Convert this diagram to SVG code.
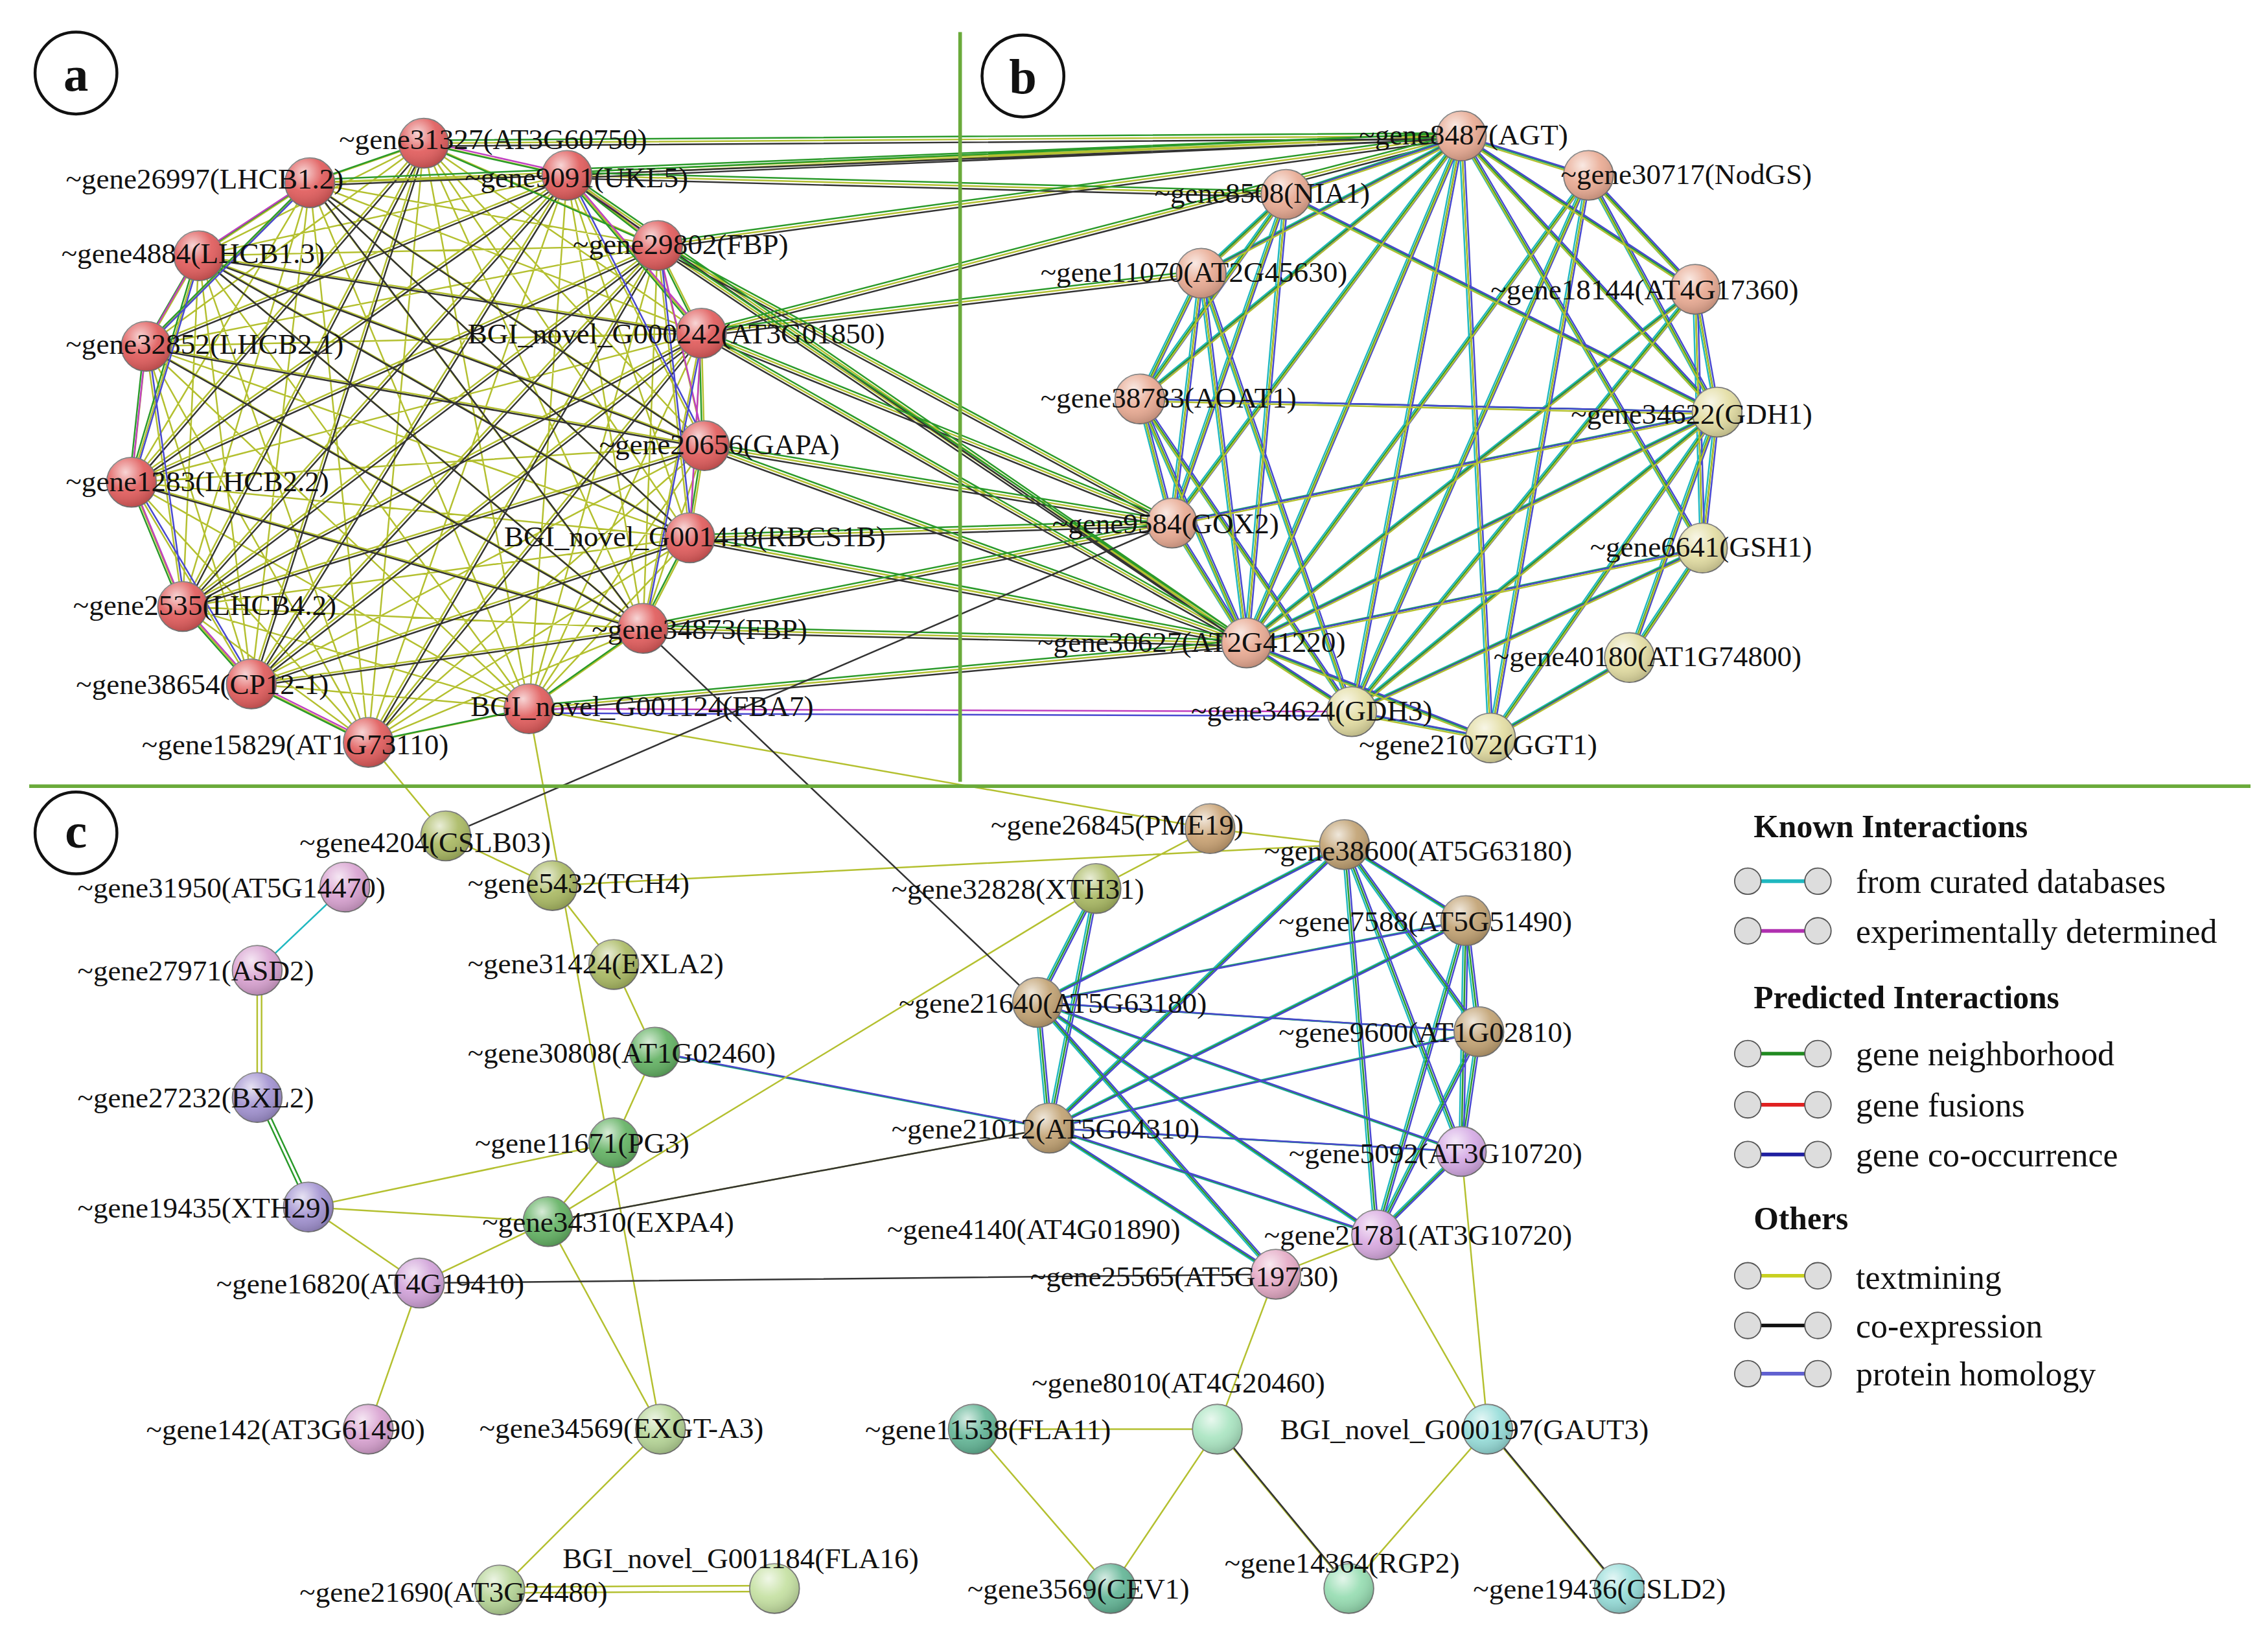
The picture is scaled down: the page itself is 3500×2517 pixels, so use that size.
<svg xmlns="http://www.w3.org/2000/svg" xmlns:xlink="http://www.w3.org/1999/xlink" width="3500" height="2517" viewBox="0 0 3500 2517">
<style>
text{font-family:"Liberation Serif","Times New Roman",serif;font-size:20px;fill:#111}
.lg{font-size:23px}
.hd{font-size:22px;font-weight:bold}
.pl{font-size:34px;font-weight:bold}
.e{fill:none;stroke-width:1.1}
.ol{stroke:#b4c030}.bk{stroke:#333}.gr{stroke:#2a9a2a}.mg{stroke:#c040c0}.bl{stroke:#4848d0}.cy{stroke:#20b8c0}.rd{stroke:#e02020}
.n{stroke:#777;stroke-width:0.8}
.h{fill:url(#hl)}
</style>
<defs>
<radialGradient id="hl" cx="0.38" cy="0.3" r="0.75">
<stop offset="0" stop-color="#fff" stop-opacity="0.75"/>
<stop offset="0.5" stop-color="#fff" stop-opacity="0.1"/>
<stop offset="1" stop-color="#000" stop-opacity="0.2"/>
</radialGradient>
<path id="pa" d="M290 98L212 125M290 98L388 120M290 98L136 175M290 98L450 168M290 98L100 237M290 98L480 228M290 98L482 305M290 98L90 330M290 98L472 368M290 98L125 415M290 98L440 430M290 98L172 468M290 98L362 485M290 98L252 508M212 125L388 120M212 125L136 175M212 125L450 168M212 125L100 237M212 125L480 228M212 125L482 305M212 125L90 330M212 125L472 368M212 125L125 415M212 125L440 430M212 125L172 468M212 125L362 485M212 125L252 508M388 120L136 175M388 120L450 168M388 120L100 237M388 120L480 228M388 120L482 305M388 120L90 330M388 120L472 368M388 120L125 415M388 120L440 430M388 120L172 468M388 120L362 485M388 120L252 508M136 175L450 168M136 175L100 237M136 175L480 228M136 175L482 305M136 175L90 330M136 175L472 368M136 175L125 415M136 175L440 430M136 175L172 468M136 175L362 485M136 175L252 508M450 168L100 237M450 168L480 228M450 168L482 305M450 168L90 330M450 168L472 368M450 168L125 415M450 168L440 430M450 168L172 468M450 168L362 485M450 168L252 508M100 237L480 228M100 237L482 305M100 237L90 330M100 237L472 368M100 237L125 415M100 237L440 430M100 237L172 468M100 237L362 485M100 237L252 508M480 228L482 305M480 228L90 330M480 228L472 368M480 228L125 415M480 228L440 430M480 228L172 468M480 228L362 485M480 228L252 508M482 305L90 330M482 305L472 368M482 305L125 415M482 305L440 430M482 305L172 468M482 305L362 485M482 305L252 508M90 330L472 368M90 330L125 415M90 330L440 430M90 330L172 468M90 330L362 485M90 330L252 508M472 368L125 415M472 368L440 430M472 368L172 468M472 368L362 485M472 368L252 508M125 415L440 430M125 415L172 468M125 415L362 485M125 415L252 508M440 430L172 468M440 430L362 485M440 430L252 508M172 468L362 485M172 468L252 508M362 485L252 508"/>
<path id="ab" d="M290 98L1000 93M388 120L1000 93M212 125L1000 93M450 168L1000 93M450 168L802 358M450 168L853 440M480 228L802 358M480 228L853 440M480 228L822 187M480 228L1000 93M482 305L802 358M482 305L853 440M472 368L802 358M472 368L853 440M440 430L853 440M440 430L802 358M362 485L853 440M388 120L853 440M388 120L880 133"/>
<path id="pb" d="M1000 93L1087 120M1000 93L880 133M1000 93L822 187M1000 93L1160 198M1000 93L780 273M1000 93L1175 282M1000 93L802 358M1000 93L853 440M1000 93L925 487M1000 93L1020 505M1000 93L1165 375M853 440L880 133M853 440L822 187M853 440L780 273M853 440L802 358M853 440L1087 120M853 440L1160 198M853 440L1175 282M853 440L1165 375M853 440L925 487M853 440L1020 505M1175 282L1087 120M1175 282L1160 198M1175 282L1165 375M1175 282L925 487M1175 282L1020 505M1175 282L880 133M1175 282L780 273M1175 282L802 358M1175 282L1115 450M925 487L1087 120M925 487L1160 198M925 487L1165 375M925 487L1020 505M925 487L780 273M925 487L822 187M880 133L822 187M880 133L780 273M880 133L802 358M822 187L780 273M822 187L802 358M780 273L802 358M1115 450L1165 375M1115 450L1020 505M1087 120L1160 198M1160 198L1165 375M1087 120L1020 505"/>
<path id="pc" d="M920 578L1003 630M920 578L710 686M920 578L1012 706M920 578L718 772M920 578L1000 788M920 578L942 845M1003 630L710 686M1003 630L1012 706M1003 630L718 772M1003 630L1000 788M1003 630L942 845M710 686L1012 706M710 686L718 772M710 686L1000 788M710 686L942 845M710 686L873 872M1012 706L718 772M1012 706L1000 788M718 772L1000 788M718 772L942 845M718 772L873 872M1000 788L942 845M1012 706L942 845M750 608L710 686M750 608L718 772M448 720L718 772"/>
</defs>
<g transform="scale(2.2552)">
<g id="connectors">
<use href="#pa" class="e ol"/>
<path class="e bk" transform="translate(1.5,1.5)" d="M290 98L90 330M290 98L125 415M290 98L172 468M212 125L482 305M212 125L472 368M212 125L440 430M388 120L100 237M388 120L90 330M388 120L125 415M388 120L172 468M136 175L480 228M136 175L482 305M136 175L472 368M136 175L440 430M450 168L90 330M450 168L125 415M450 168L172 468M100 237L482 305M100 237L440 430M480 228L125 415M480 228L172 468M482 305L125 415M90 330L440 430M472 368L172 468M440 430L172 468M480 228L252 508M450 168L252 508"/>
<path class="e gr" transform="translate(-1.5,0)" d="M290 98L212 125L136 175L100 237L90 330L125 415L172 468L252 508L362 485L440 430L472 368L482 305L480 228L450 168L388 120L290 98M290 98L450 168M388 120L480 228M212 125L100 237M136 175L90 330"/>
<path class="e mg" transform="translate(0,-1.5)" d="M212 125L136 175L100 237L90 330L125 415L172 468L252 508M290 98L388 120L480 228M388 120L450 168L482 305M480 228L472 368"/>
<path class="e bl" transform="translate(1.5,-1)" d="M212 125L100 237M136 175L90 330M100 237L125 415M90 330L172 468M388 120L482 305M450 168L472 368M480 228L440 430"/>
<use href="#ab" class="e ol"/>
<use href="#ab" class="e bk" transform="translate(0,2)"/>
<use href="#ab" class="e gr" transform="translate(0,-2)"/>
<path class="e mg" d="M362 485L925 487"/><path class="e bl" d="M362 488L925 490"/>
<use href="#pb" class="e cy" transform="translate(-1.5,0)"/>
<use href="#pb" class="e gr"/>
<use href="#pb" class="e bl" transform="translate(1.5,0)"/>
<use href="#pb" class="e ol" transform="translate(0,1.5)"/>
<use href="#pc" class="e cy" transform="translate(-1.5,0)"/>
<use href="#pc" class="e gr"/>
<use href="#pc" class="e bl" transform="translate(1.5,0)"/>
<path class="e ol" d="M305 572L378 606L420 660L448 720L420 782L375 836L452 978L342 1088M375 836L287 878M211 826L287 878M211 826L375 836M211 826L420 782M287 878L252 978M375 836L750 608M375 836L718 772M378 606L920 578M305 572L252 508M452 978L362 485M873 872L833 978L666 978L760 1087M833 978L760 1087M833 978L923 1087L1018 978L1108 1087M1018 978L942 845M1018 978L1000 788M942 845L873 872M828 567L920 578M828 567L362 485M828 567L750 608"/>
<path class="e ol" d="M342 1086L530 1085M342 1090L530 1089M176 664L176 751M179 664L179 751"/>
<path class="e gr" d="M176 751L211 826M179 751L214 826"/>
<path class="e cy" d="M236 607L176 664"/>
<path class="e bk" d="M440 430L710 686M305 572L802 358M287 878L873 872M375 836L718 772"/>
<path class="e bk" d="M833 978L923 1087M1018 978L1108 1087" transform="translate(1.5,1)"/>
</g>
<g id="panels">
<path d="M657 22V535M20 538H1540" stroke="#6aaa3a" stroke-width="2.5" fill="none"/>
<circle cx="52" cy="50" r="28" fill="#fff" stroke="#111" stroke-width="2"/><text class="pl" x="52" y="62" text-anchor="middle">a</text>
<circle cx="700" cy="52" r="28" fill="#fff" stroke="#111" stroke-width="2"/><text class="pl" x="700" y="64" text-anchor="middle">b</text>
<circle cx="52" cy="570" r="28" fill="#fff" stroke="#111" stroke-width="2"/><text class="pl" x="52" y="580" text-anchor="middle">c</text>
</g>
<g id="nodes-a" fill="#e05858">
<g id="n-gene31327"><circle class="n" cx="290" cy="98" r="17"/><circle class="h" cx="290" cy="98" r="17"/><text x="232" y="102">~gene31327(AT3G60750)</text></g>
<g id="n-gene26997"><circle class="n" cx="212" cy="125" r="17"/><circle class="h" cx="212" cy="125" r="17"/><text x="45" y="129">~gene26997(LHCB1.2)</text></g>
<g id="n-gene9091"><circle class="n" cx="388" cy="120" r="17"/><circle class="h" cx="388" cy="120" r="17"/><text x="318" y="128">~gene9091(UKL5)</text></g>
<g id="n-gene4884"><circle class="n" cx="136" cy="175" r="17"/><circle class="h" cx="136" cy="175" r="17"/><text x="42" y="180">~gene4884(LHCB1.3)</text></g>
<g id="n-gene29802"><circle class="n" cx="450" cy="168" r="17"/><circle class="h" cx="450" cy="168" r="17"/><text x="392" y="174">~gene29802(FBP)</text></g>
<g id="n-gene32852"><circle class="n" cx="100" cy="237" r="17"/><circle class="h" cx="100" cy="237" r="17"/><text x="45" y="242">~gene32852(LHCB2.1)</text></g>
<g id="n-G000242"><circle class="n" cx="480" cy="228" r="17"/><circle class="h" cx="480" cy="228" r="17"/><text x="320" y="235">BGI_novel_G000242(AT3G01850)</text></g>
<g id="n-gene20656"><circle class="n" cx="482" cy="305" r="17"/><circle class="h" cx="482" cy="305" r="17"/><text x="410" y="311">~gene20656(GAPA)</text></g>
<g id="n-gene1283"><circle class="n" cx="90" cy="330" r="17"/><circle class="h" cx="90" cy="330" r="17"/><text x="45" y="336">~gene1283(LHCB2.2)</text></g>
<g id="n-G001418"><circle class="n" cx="472" cy="368" r="17"/><circle class="h" cx="472" cy="368" r="17"/><text x="345" y="374">BGI_novel_G001418(RBCS1B)</text></g>
<g id="n-gene2535"><circle class="n" cx="125" cy="415" r="17"/><circle class="h" cx="125" cy="415" r="17"/><text x="50" y="421">~gene2535(LHCB4.2)</text></g>
<g id="n-gene34873"><circle class="n" cx="440" cy="430" r="17"/><circle class="h" cx="440" cy="430" r="17"/><text x="405" y="437">~gene34873(FBP)</text></g>
<g id="n-gene38654"><circle class="n" cx="172" cy="468" r="17"/><circle class="h" cx="172" cy="468" r="17"/><text x="52" y="475">~gene38654(CP12-1)</text></g>
<g id="n-G001124"><circle class="n" cx="362" cy="485" r="17"/><circle class="h" cx="362" cy="485" r="17"/><text x="322" y="490">BGI_novel_G001124(FBA7)</text></g>
<g id="n-gene15829"><circle class="n" cx="252" cy="508" r="17"/><circle class="h" cx="252" cy="508" r="17"/><text x="97" y="516">~gene15829(AT1G73110)</text></g>
</g>
<g id="nodes-b">
<g id="n-gene8487" fill="#e8a890"><circle class="n" cx="1000" cy="93" r="17"/><circle class="h" cx="1000" cy="93" r="17"/><text x="930" y="99">~gene8487(AGT)</text></g>
<g id="n-gene30717" fill="#e8a890"><circle class="n" cx="1087" cy="120" r="17"/><circle class="h" cx="1087" cy="120" r="17"/><text x="1068" y="126">~gene30717(NodGS)</text></g>
<g id="n-gene8508" fill="#e8a890"><circle class="n" cx="880" cy="133" r="17"/><circle class="h" cx="880" cy="133" r="17"/><text x="790" y="139">~gene8508(NIA1)</text></g>
<g id="n-gene11070" fill="#e8a890"><circle class="n" cx="822" cy="187" r="17"/><circle class="h" cx="822" cy="187" r="17"/><text x="712" y="193">~gene11070(AT2G45630)</text></g>
<g id="n-gene18144" fill="#e8a890"><circle class="n" cx="1160" cy="198" r="17"/><circle class="h" cx="1160" cy="198" r="17"/><text x="1020" y="205">~gene18144(AT4G17360)</text></g>
<g id="n-gene38783" fill="#e8a890"><circle class="n" cx="780" cy="273" r="17"/><circle class="h" cx="780" cy="273" r="17"/><text x="712" y="279">~gene38783(AOAT1)</text></g>
<g id="n-gene34622" fill="#e2dca0"><circle class="n" cx="1175" cy="282" r="17"/><circle class="h" cx="1175" cy="282" r="17"/><text x="1075" y="290">~gene34622(GDH1)</text></g>
<g id="n-gene9584" fill="#e8a890"><circle class="n" cx="802" cy="358" r="17"/><circle class="h" cx="802" cy="358" r="17"/><text x="720" y="365">~gene9584(GOX2)</text></g>
<g id="n-gene6641" fill="#e2dca0"><circle class="n" cx="1165" cy="375" r="17"/><circle class="h" cx="1165" cy="375" r="17"/><text x="1088" y="381">~gene6641(GSH1)</text></g>
<g id="n-gene30627" fill="#e8a890"><circle class="n" cx="853" cy="440" r="17"/><circle class="h" cx="853" cy="440" r="17"/><text x="710" y="446">~gene30627(AT2G41220)</text></g>
<g id="n-gene40180" fill="#e2dca0"><circle class="n" cx="1115" cy="450" r="17"/><circle class="h" cx="1115" cy="450" r="17"/><text x="1022" y="456">~gene40180(AT1G74800)</text></g>
<g id="n-gene34624" fill="#e2dca0"><circle class="n" cx="925" cy="487" r="17"/><circle class="h" cx="925" cy="487" r="17"/><text x="815" y="493">~gene34624(GDH3)</text></g>
<g id="n-gene21072" fill="#e2dca0"><circle class="n" cx="1020" cy="505" r="17"/><circle class="h" cx="1020" cy="505" r="17"/><text x="930" y="516">~gene21072(GGT1)</text></g>
</g>
<g id="nodes-c">
<g id="n-gene4204" fill="#a8b860"><circle class="n" cx="305" cy="572" r="17"/><circle class="h" cx="305" cy="572" r="17"/><text x="205" y="583">~gene4204(CSLB03)</text></g>
<g id="n-gene31950" fill="#d8a0d0"><circle class="n" cx="236" cy="607" r="17"/><circle class="h" cx="236" cy="607" r="17"/><text x="53" y="614">~gene31950(AT5G14470)</text></g>
<g id="n-gene5432" fill="#a8b860"><circle class="n" cx="378" cy="606" r="17"/><circle class="h" cx="378" cy="606" r="17"/><text x="320" y="611">~gene5432(TCH4)</text></g>
<g id="n-gene27971" fill="#d8a0d0"><circle class="n" cx="176" cy="664" r="17"/><circle class="h" cx="176" cy="664" r="17"/><text x="53" y="671">~gene27971(ASD2)</text></g>
<g id="n-gene31424" fill="#a8b860"><circle class="n" cx="420" cy="660" r="17"/><circle class="h" cx="420" cy="660" r="17"/><text x="320" y="666">~gene31424(EXLA2)</text></g>
<g id="n-gene30808" fill="#60b060"><circle class="n" cx="448" cy="720" r="17"/><circle class="h" cx="448" cy="720" r="17"/><text x="320" y="727">~gene30808(AT1G02460)</text></g>
<g id="n-gene27232" fill="#a090d0"><circle class="n" cx="176" cy="751" r="17"/><circle class="h" cx="176" cy="751" r="17"/><text x="53" y="758">~gene27232(BXL2)</text></g>
<g id="n-gene11671" fill="#60b060"><circle class="n" cx="420" cy="782" r="17"/><circle class="h" cx="420" cy="782" r="17"/><text x="325" y="789">~gene11671(PG3)</text></g>
<g id="n-gene19435" fill="#a090d0"><circle class="n" cx="211" cy="826" r="17"/><circle class="h" cx="211" cy="826" r="17"/><text x="53" y="833">~gene19435(XTH29)</text></g>
<g id="n-gene34310" fill="#60b060"><circle class="n" cx="375" cy="836" r="17"/><circle class="h" cx="375" cy="836" r="17"/><text x="330" y="843">~gene34310(EXPA4)</text></g>
<g id="n-gene16820" fill="#d0a0d8"><circle class="n" cx="287" cy="878" r="17"/><circle class="h" cx="287" cy="878" r="17"/><text x="148" y="885">~gene16820(AT4G19410)</text></g>
<g id="n-gene142" fill="#d8a0d0"><circle class="n" cx="252" cy="978" r="17"/><circle class="h" cx="252" cy="978" r="17"/><text x="100" y="985">~gene142(AT3G61490)</text></g>
<g id="n-gene34569" fill="#b4d494"><circle class="n" cx="452" cy="978" r="17"/><circle class="h" cx="452" cy="978" r="17"/><text x="328" y="984">~gene34569(EXGT-A3)</text></g>
<g id="n-gene21690" fill="#b4d494"><circle class="n" cx="342" cy="1088" r="17"/><circle class="h" cx="342" cy="1088" r="17"/><text x="205" y="1096">~gene21690(AT3G24480)</text></g>
<g id="n-G001184" fill="#c4e0a0"><circle class="n" cx="530" cy="1087" r="17"/><circle class="h" cx="530" cy="1087" r="17"/><text x="385" y="1073">BGI_novel_G001184(FLA16)</text></g>
<g id="n-gene26845" fill="#c8a070"><circle class="n" cx="828" cy="567" r="17"/><circle class="h" cx="828" cy="567" r="17"/><text x="678" y="571">~gene26845(PME19)</text></g>
<g id="n-gene38600" fill="#c0a070"><circle class="n" cx="920" cy="578" r="17"/><circle class="h" cx="920" cy="578" r="17"/><text x="865" y="589">~gene38600(AT5G63180)</text></g>
<g id="n-gene32828" fill="#a8b860"><circle class="n" cx="750" cy="608" r="17"/><circle class="h" cx="750" cy="608" r="17"/><text x="610" y="615">~gene32828(XTH31)</text></g>
<g id="n-gene7588" fill="#c0a070"><circle class="n" cx="1003" cy="630" r="17"/><circle class="h" cx="1003" cy="630" r="17"/><text x="875" y="637">~gene7588(AT5G51490)</text></g>
<g id="n-gene21640" fill="#c0a070"><circle class="n" cx="710" cy="686" r="17"/><circle class="h" cx="710" cy="686" r="17"/><text x="615" y="693">~gene21640(AT5G63180)</text></g>
<g id="n-gene9600" fill="#c0a070"><circle class="n" cx="1012" cy="706" r="17"/><circle class="h" cx="1012" cy="706" r="17"/><text x="875" y="713">~gene9600(AT1G02810)</text></g>
<g id="n-gene21012" fill="#c0a070"><circle class="n" cx="718" cy="772" r="17"/><circle class="h" cx="718" cy="772" r="17"/><text x="610" y="779">~gene21012(AT5G04310)</text></g>
<g id="n-gene5092" fill="#d4a8e4"><circle class="n" cx="1000" cy="788" r="17"/><circle class="h" cx="1000" cy="788" r="17"/><text x="882" y="796">~gene5092(AT3G10720)</text></g>
<g id="n-gene4140"><text x="607" y="848">~gene4140(AT4G01890)</text></g>
<g id="n-gene21781" fill="#d8a8e0"><circle class="n" cx="942" cy="845" r="17"/><circle class="h" cx="942" cy="845" r="17"/><text x="865" y="852">~gene21781(AT3G10720)</text></g>
<g id="n-gene25565" fill="#e4a8c4"><circle class="n" cx="873" cy="872" r="17"/><circle class="h" cx="873" cy="872" r="17"/><text x="705" y="880">~gene25565(AT5G19730)</text></g>
<g id="n-gene8010" fill="#a8e4c0"><circle class="n" cx="833" cy="978" r="17"/><circle class="h" cx="833" cy="978" r="17"/><text x="706" y="953">~gene8010(AT4G20460)</text></g>
<g id="n-gene11538" fill="#60b494"><circle class="n" cx="666" cy="978" r="17"/><circle class="h" cx="666" cy="978" r="17"/><text x="592" y="985">~gene11538(FLA11)</text></g>
<g id="n-G000197" fill="#94dcd8"><circle class="n" cx="1018" cy="978" r="17"/><circle class="h" cx="1018" cy="978" r="17"/><text x="876" y="985">BGI_novel_G000197(GAUT3)</text></g>
<g id="n-gene3569" fill="#60b494"><circle class="n" cx="760" cy="1087" r="17"/><circle class="h" cx="760" cy="1087" r="17"/><text x="662" y="1094">~gene3569(CEV1)</text></g>
<g id="n-gene14364" fill="#94dcb0"><circle class="n" cx="923" cy="1087" r="17"/><circle class="h" cx="923" cy="1087" r="17"/><text x="838" y="1076">~gene14364(RGP2)</text></g>
<g id="n-gene19436" fill="#94dcd8"><circle class="n" cx="1108" cy="1087" r="17"/><circle class="h" cx="1108" cy="1087" r="17"/><text x="1008" y="1094">~gene19436(CSLD2)</text></g>
</g>
<g id="legend">
<text class="hd" x="1200" y="573">Known Interactions</text>
<text class="hd" x="1200" y="690">Predicted Interactions</text>
<text class="hd" x="1200" y="841">Others</text>
<g stroke-width="2.5">
<line x1="1196" y1="603" x2="1244" y2="603" stroke="#20b8c0"/>
<line x1="1196" y1="637" x2="1244" y2="637" stroke="#b030b0"/>
<line x1="1196" y1="721" x2="1244" y2="721" stroke="#208a20"/>
<line x1="1196" y1="756" x2="1244" y2="756" stroke="#e02020"/>
<line x1="1196" y1="790" x2="1244" y2="790" stroke="#2020a0"/>
<line x1="1196" y1="873" x2="1244" y2="873" stroke="#c8d020"/>
<line x1="1196" y1="907" x2="1244" y2="907" stroke="#111"/>
<line x1="1196" y1="940" x2="1244" y2="940" stroke="#6060d0"/>
</g>
<g fill="#ddd" stroke="#555" stroke-width="0.8">
<circle cx="1196" cy="603" r="9"/><circle cx="1244" cy="603" r="9"/>
<circle cx="1196" cy="637" r="9"/><circle cx="1244" cy="637" r="9"/>
<circle cx="1196" cy="721" r="9"/><circle cx="1244" cy="721" r="9"/>
<circle cx="1196" cy="756" r="9"/><circle cx="1244" cy="756" r="9"/>
<circle cx="1196" cy="790" r="9"/><circle cx="1244" cy="790" r="9"/>
<circle cx="1196" cy="873" r="9"/><circle cx="1244" cy="873" r="9"/>
<circle cx="1196" cy="907" r="9"/><circle cx="1244" cy="907" r="9"/>
<circle cx="1196" cy="940" r="9"/><circle cx="1244" cy="940" r="9"/>
</g>
<text class="lg" x="1270" y="611">from curated databases</text>
<text class="lg" x="1270" y="645">experimentally  determined</text>
<text class="lg" x="1270" y="729">gene neighborhood</text>
<text class="lg" x="1270" y="764">gene fusions</text>
<text class="lg" x="1270" y="798">gene co-occurrence</text>
<text class="lg" x="1270" y="882">textmining</text>
<text class="lg" x="1270" y="915">co-expression</text>
<text class="lg" x="1270" y="948">protein homology</text>
</g>
</g>
</svg>
